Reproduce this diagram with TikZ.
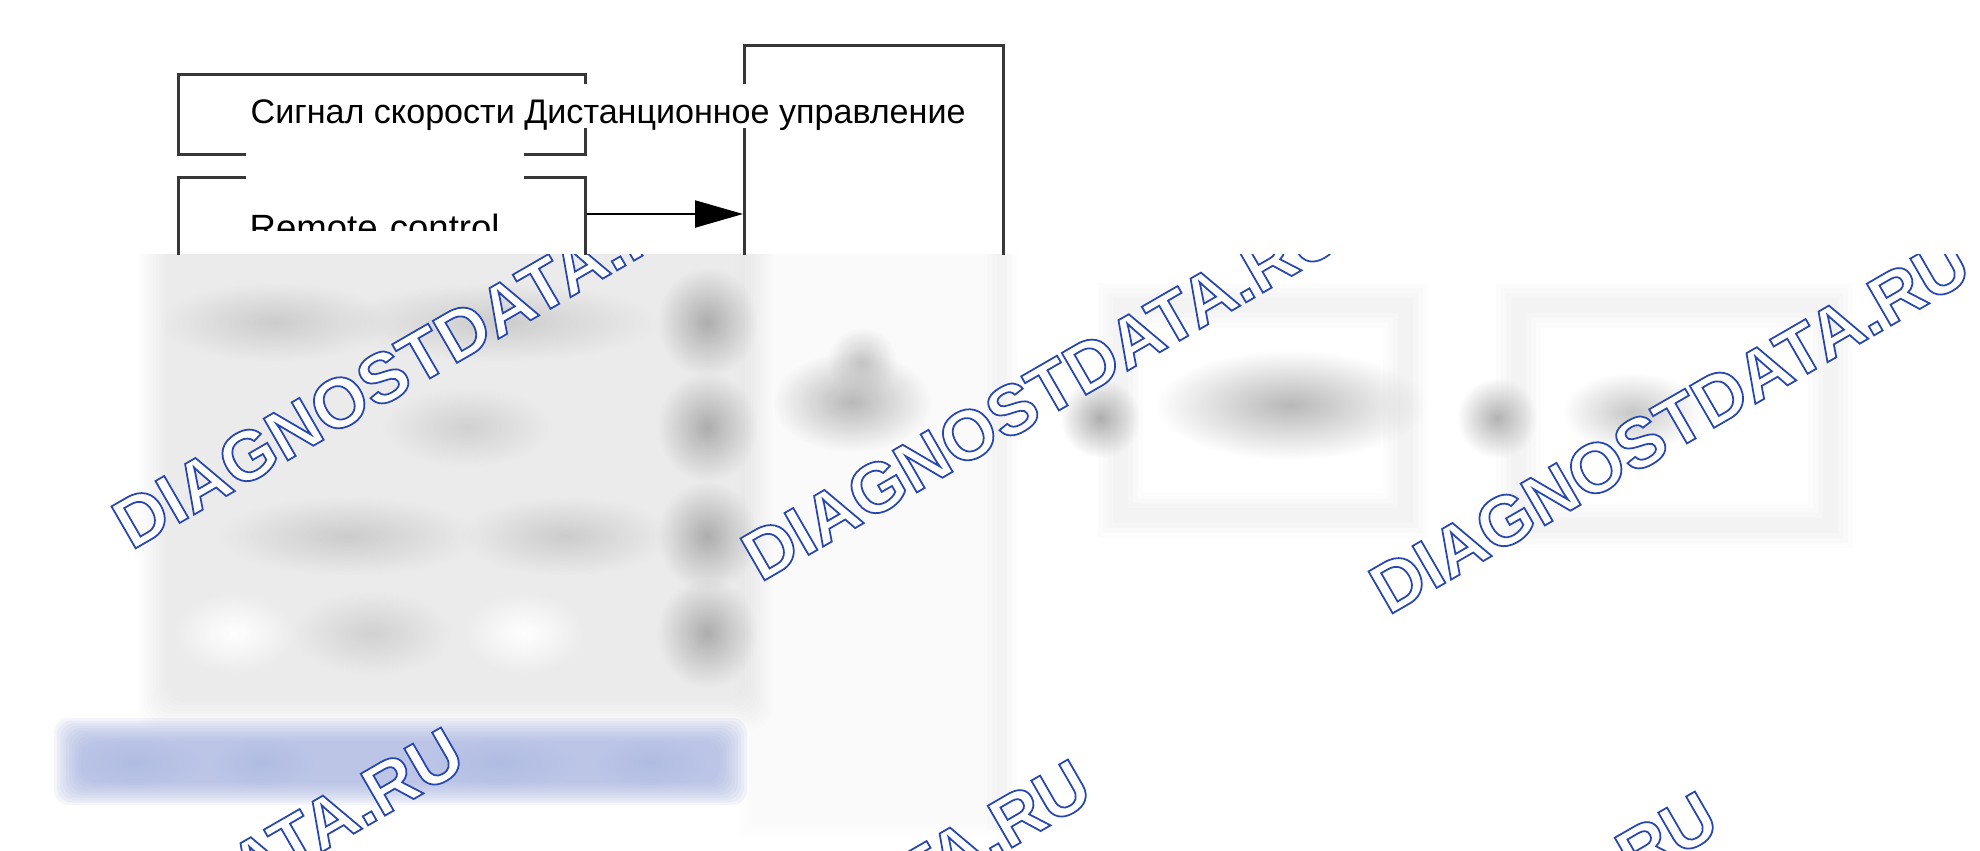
\documentclass[tikz,border=0pt]{standalone}
\usepackage{fontspec}
\setmainfont{Liberation Sans}
\newfontfamily\markfont{Liberation Sans}
\usetikzlibrary{arrows.meta,fadings}

\definecolor{lineg}{RGB}{55,55,55}
\definecolor{bandblue}{RGB}{165,178,222}

% white letters with a thin blue outline (text render mode 2)
\newcommand\outlined[1]{\special{pdf:code 2 Tr 0.5 w 0.157 0.275 0.686 RG}#1\special{pdf:code 0 Tr}}

\tikzfading[name=softblob, inner color=transparent!0, outer color=transparent!100]

\tikzset{
  boxframe/.style={draw=lineg, line width=0.85pt, inner sep=0pt, anchor=north west},
  textbox/.style={fill=white, inner ysep=0pt, inner xsep=0.4mm, anchor=base west},
  watermark/.style={anchor=base west, rotate=30, inner sep=0pt, text=white,
    font=\markfont\bfseries\fontsize{20pt}{24pt}\selectfont},
  blob/.style={path fading=softblob},
}

\begin{document}
\begin{tikzpicture}[x=0.1mm, y=-0.1mm]
    \useasboundingbox (0,0) rectangle (1980,850);

    % Blurred lower part
    \begin{scope}
        \clip (0,254) rectangle (1980,850);
        % grey panel
        \foreach \i in {0,...,9}
            \fill[black, opacity=0.009, rounded corners=2mm] (138+3*\i, 200) rectangle (772-3*\i, 729-3*\i);
        % lower part of the big box
        \foreach \i in {0,...,4}
            \fill[black, opacity=0.005] (735+4*\i, 200) rectangle (1012-4*\i, 840-4*\i);
        \foreach \w in {3,2,1}
            \draw[black, opacity=0.012, line width=\w mm] (1002,200) -- (1002,830);
        % blue band
        \foreach \i in {0,...,9}
            \fill[bandblue, opacity=0.13, rounded corners=1.5mm] (54+3*\i, 718+2.5*\i) rectangle (747-3*\i, 805-2.5*\i);
        \foreach \cx/\w in {135/140, 262/110, 500/160, 650/120}
            \fill[bandblue, opacity=0.5, blob] (\cx-\w/2, 735) rectangle (\cx+\w/2, 790);
        % boxes on the right
        \foreach \w in {4.5,3.5,2.5,1.5}
            \draw[black, opacity=0.012, line width=\w mm] (1120,305) rectangle (1405,515) (1518,305) rectangle (1830,525);
        % texts and arrow heads
        \foreach \cx/\cy/\w/\h/\g in {275/322/230/80/20, 499/322/320/80/20, 707/322/100/110/32,
                467/427/170/80/18, 707/427/100/110/32, 348/536/260/80/20, 565/536/210/80/20,
                707/536/100/110/32, 372/633/160/85/18, 707/633/100/110/32,
                862/362/70/70/22, 852/402/160/100/28, 1100/418/80/80/32,
                1290/405/270/110/28, 1497/418/80/80/30, 1632/412/140/80/22}
            \fill[black!\g, blob] (\cx-\w/2, \cy-\h/2) rectangle (\cx+\w/2, \cy+\h/2);
        \foreach \cx in {234,524}
            \fill[white, blob] (\cx-60, 593) rectangle (\cx+60, 673);
    \end{scope}

    % Watermarks
    \begin{scope}
        \clip (0,254) rectangle (1980,850);
        \foreach \mx/\my [count=\i] in {131/551, 760/583, 1388/616, -118/1106, 509/1138, 1136/1170}
            \node[watermark] (mark\i) at (\mx,\my) {\outlined{DIAGNOSTDATA.RU}};
    \end{scope}

    % Upper part
    \begin{scope}
        \clip (0,0) rectangle (1980,254);
        \node[boxframe, minimum width=40.7mm, minimum height=8mm] (speedbox) at (177,73) {};
        \node[boxframe, minimum width=40.7mm, minimum height=54.4mm] (remotebox) at (177,176) {};
        \node[boxframe, minimum width=25.9mm, minimum height=78.6mm] (unitbox) at (743,44) {};
        \coordinate (arrowy) at (0,214);
        \draw[-{Triangle[length=4.8mm, width=2.7mm]}, line width=0.6pt] (remotebox.east |- arrowy) -- (unitbox.west |- arrowy);
        % labels
        \node[textbox, text height=3.9mm, text depth=0.5mm, font=\fontsize{9.7pt}{12pt}\selectfont] (speedlabel) at (246,123)
            {Сигнал скорости Дистанционное управление};
        \begin{scope}
            \clip (0,0) rectangle (1980,230);
            \node[textbox, text width=27mm, text height=9.4mm, text depth=1.6mm, font=\fontsize{10.4pt}{12pt}\selectfont] (remotelabel) at (245,240)
                {Remote control};
        \end{scope}
    \end{scope}
\end{tikzpicture}
\end{document}
